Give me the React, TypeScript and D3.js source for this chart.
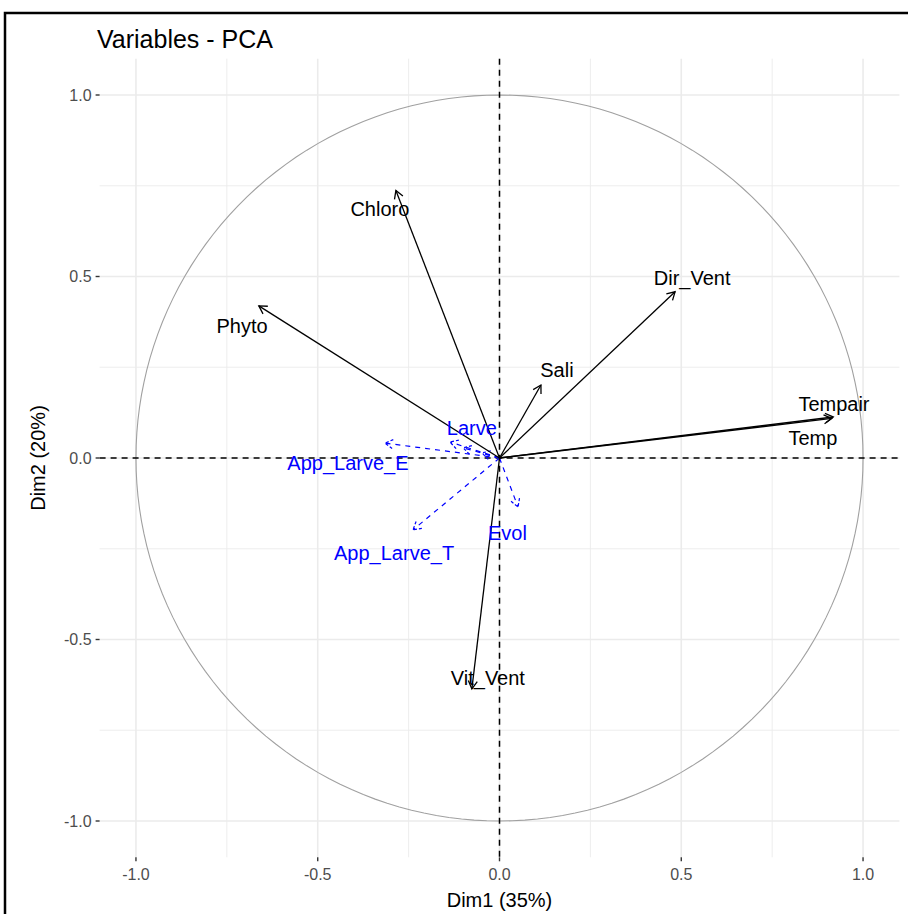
import React from "react";
import * as d3 from "d3";

// Active variables (black arrows)
const activeNames = ["Chloro", "Phyto", "Dir_Vent", "Sali", "Tempair", "Temp", "Vit_Vent"];
const activeDim1 = [-0.285, -0.662, 0.483, 0.114, 0.918, 0.914, -0.076];
const activeDim2 = [0.737, 0.419, 0.458, 0.201, 0.113, 0.109, -0.636];
const activeLabelX = [-0.329, -0.708, 0.53, 0.158, 0.92, 0.862, -0.032];
const activeLabelY = [0.685, 0.364, 0.496, 0.242, 0.149, 0.055, -0.606];

// Supplementary variables (blue dashed arrows)
const supNames = ["App_Larve_E", "Larve", "Larve_2", "Larve_3", "App_Larve_T", "Evol"];
const supShown = [true, true, false, false, true, true];
const supDim1 = [-0.315, -0.136, -0.1, -0.048, -0.238, 0.051];
const supDim2 = [0.041, 0.044, 0.028, 0.014, -0.198, -0.135];
const supLabelX = [-0.417, -0.076, 0, 0, -0.29, 0.022];
const supLabelY = [-0.014, 0.083, 0, 0, -0.262, -0.207];

const majorTicks = [-1, -0.5, 0, 0.5, 1];
const minorTicks = [-0.75, -0.25, 0.25, 0.75];
const domain: [number, number] = [-1.1, 1.1];

const W = 908;
const H = 914;
const FONT = "'Liberation Sans', Arial, sans-serif";

export default function App() {
  const x = d3.scaleLinear().domain(domain).range([99.6, 899.4]);
  const y = d3.scaleLinear().domain(domain).range([857.3, 58.7]);
  const fmt = (v: number) => d3.format(".1f")(v).replace("\u2212", "-");

  const arrowHead = (x0: number, y0: number, x1: number, y1: number, len = 9) => {
    const ang = Math.atan2(y1 - y0, x1 - x0);
    const a = Math.PI / 6;
    const p1 = [x1 - len * Math.cos(ang - a), y1 - len * Math.sin(ang - a)];
    const p2 = [x1 - len * Math.cos(ang + a), y1 - len * Math.sin(ang + a)];
    return `M${p1[0]},${p1[1]}L${x1},${y1}L${p2[0]},${p2[1]}`;
  };

  const circle = d3.range(0, 361, 2).map((deg) => [
    x(Math.cos((deg * Math.PI) / 180)),
    y(Math.sin((deg * Math.PI) / 180)),
  ]) as [number, number][];
  const circlePath = d3.line()(circle) || "";

  const [px0, px1] = x.range();
  const [py0, py1] = y.range();

  return (
    <svg width={W} height={H} style={{ position: "absolute", left: 0, top: 0, background: "#fff" }}>
      <rect x={0} y={0} width={W} height={H} fill="#fff" />
      {/* grid */}
      {minorTicks.map((t) => (
        <g key={"mn" + t}>
          <line x1={x(t)} x2={x(t)} y1={py1} y2={py0} stroke="#ebebeb" strokeWidth={0.9} />
          <line x1={px0} x2={px1} y1={y(t)} y2={y(t)} stroke="#ebebeb" strokeWidth={0.9} />
        </g>
      ))}
      {majorTicks.map((t) => (
        <g key={"mj" + t}>
          <line x1={x(t)} x2={x(t)} y1={py1} y2={py0} stroke="#ebebeb" strokeWidth={1.6} />
          <line x1={px0} x2={px1} y1={y(t)} y2={y(t)} stroke="#ebebeb" strokeWidth={1.6} />
        </g>
      ))}
      {/* circle */}
      <path d={circlePath} fill="none" stroke="#a0a0a0" strokeWidth={1.1} />
      {/* reference lines */}
      <line x1={x(0)} x2={x(0)} y1={py1} y2={py0} stroke="#000" strokeWidth={1.5} strokeDasharray="6,5" />
      <line x1={px0} x2={px1} y1={y(0)} y2={y(0)} stroke="#000" strokeWidth={1.5} strokeDasharray="6,5" />
      {/* supplementary arrows */}
      {supNames.map((n, i) => {
        const x1 = x(supDim1[i]);
        const y1 = y(supDim2[i]);
        return (
          <g key={n}>
            <line x1={x(0)} y1={y(0)} x2={x1} y2={y1} stroke="#0000ff" strokeWidth={1.2} strokeDasharray="5,5" />
            <path d={arrowHead(x(0), y(0), x1, y1)} fill="none" stroke="#0000ff" strokeWidth={1.2} strokeDasharray="3,2" />
          </g>
        );
      })}
      {/* active arrows */}
      {activeNames.map((n, i) => {
        const x1 = x(activeDim1[i]);
        const y1 = y(activeDim2[i]);
        return (
          <g key={n}>
            <line x1={x(0)} y1={y(0)} x2={x1} y2={y1} stroke="#000" strokeWidth={1.3} />
            <path d={arrowHead(x(0), y(0), x1, y1)} fill="none" stroke="#000" strokeWidth={1.3} />
          </g>
        );
      })}
      {/* labels */}
      {supNames.map((n, i) =>
        supShown[i] ? (
          <text key={"l" + n} x={x(supLabelX[i])} y={y(supLabelY[i])} dy="0.35em" textAnchor="middle"
            fontFamily={FONT} fontSize={20} fill="#0000ff">{n}</text>
        ) : null
      )}
      {activeNames.map((n, i) => (
        <text key={"l" + n} x={x(activeLabelX[i])} y={y(activeLabelY[i])} dy="0.35em" textAnchor="middle"
          fontFamily={FONT} fontSize={20} fill="#000">{n}</text>
      ))}
      {/* axes ticks */}
      {majorTicks.map((t) => (
        <g key={"tk" + t}>
          <line x1={x(t)} x2={x(t)} y1={py0} y2={py0 + 4} stroke="#333" strokeWidth={1.4} />
          <text x={x(t)} y={py0 + 23} textAnchor="middle" fontFamily={FONT} fontSize={16} fill="#4d4d4d">{fmt(t)}</text>
          <line x1={px0 - 4} x2={px0} y1={y(t)} y2={y(t)} stroke="#333" strokeWidth={1.4} />
          <text x={px0 - 8} y={y(t)} dy="0.35em" textAnchor="end" fontFamily={FONT} fontSize={16} fill="#4d4d4d">{fmt(t)}</text>
        </g>
      ))}
      <text x={x(0)} y={907} textAnchor="middle" fontFamily={FONT} fontSize={20} fill="#000">Dim1 (35%)</text>
      <text transform={`translate(45,${y(0)}) rotate(-90)`} textAnchor="middle" fontFamily={FONT} fontSize={20} fill="#000">Dim2 (20%)</text>
      <text x={97} y={48} fontFamily={FONT} fontSize={25} fill="#000">Variables - PCA</text>
      {/* frame */}
      <path d={`M5,${H}L5,13L${W},13`} fill="none" stroke="#000" strokeWidth={2.5} />
    </svg>
  );
}
